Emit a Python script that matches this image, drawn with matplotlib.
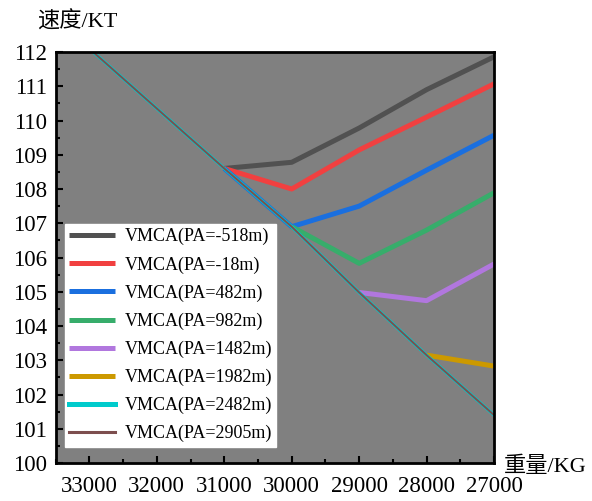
import matplotlib
matplotlib.use('Agg')
import matplotlib.pyplot as plt
from matplotlib.ticker import MultipleLocator

# weight (kg) and VMCA (kt)
w_m518 = [31000, 30000, 29000, 28000, 27000]
v_m518 = [108.6, 108.78, 109.78, 110.9, 111.86]

w_m18 = [31000, 30000, 29000, 28000, 27000]
v_m18 = [108.6, 108.0, 109.14, 110.1, 111.07]

w_482 = [31000, 30000, 29000, 28000, 27000]
v_482 = [108.6, 106.9, 107.5, 108.55, 109.57]

w_982 = [30000, 29000, 28000, 27000]
v_982 = [106.9, 105.83, 106.8, 107.89]

w_1482 = [29000, 28000, 27000]
v_1482 = [104.98, 104.74, 105.81]

w_1982 = [28000, 27000]
v_1982 = [103.15, 102.83]

w_2482 = [33000, 32000, 31000, 30000, 29000, 28000, 27000]
v_2482 = [112.1, 110.35, 108.6, 106.9, 104.98, 103.15, 101.4]

w_2905 = [33000, 32000, 31000, 30000, 29000, 28000, 27000]
v_2905 = [112.1, 110.35, 108.6, 106.9, 104.98, 103.15, 101.4]

labels = ['VMCA(PA=-518m)', 'VMCA(PA=-18m)', 'VMCA(PA=482m)', 'VMCA(PA=982m)',
          'VMCA(PA=1482m)', 'VMCA(PA=1982m)', 'VMCA(PA=2482m)', 'VMCA(PA=2905m)']
colors = ['#515151', '#F14040', '#1A6FDF', '#37AD6B',
          '#B177DE', '#CC9900', '#00CBCC', '#7D4E4E']

plt.rcParams['font.family'] = ['Liberation Serif', 'Noto Sans CJK SC']

fig = plt.figure(figsize=(5.92, 5.01), dpi=100)
ax = fig.add_axes([0.094, 0.0758, 0.7405, 0.8204])
ax.set_facecolor('#808080')

series = [(w_m518, v_m518), (w_m18, v_m18), (w_482, v_482), (w_982, v_982),
          (w_1482, v_1482), (w_1982, v_1982)]
for (w, v), lab, c in zip(series, labels[:6], colors[:6]):
    ax.plot(w, v, color=c, lw=3.6, label=lab, solid_capstyle='butt')
ax.plot(w_2482, v_2482, color=colors[6], lw=2.4, label=labels[6])
ax.plot(w_2905, v_2905, color=colors[7], lw=1.4, label=labels[7])

ax.set_xlim(33500, 27000)
ax.set_ylim(100, 112)
ax.xaxis.set_major_locator(MultipleLocator(1000))
ax.xaxis.set_minor_locator(MultipleLocator(500))
ax.yaxis.set_major_locator(MultipleLocator(1))
ax.yaxis.set_minor_locator(MultipleLocator(0.5))
ax.tick_params(which='both', direction='in', width=1.5, top=False, right=False)
ax.tick_params(which='major', length=5, labelsize=16.5)
ax.tick_params(axis='x', which='major', pad=9)
ax.tick_params(axis='y', which='major', pad=6)
ax.tick_params(which='minor', length=3)
for s in ax.spines.values():
    s.set_linewidth(2)

leg = ax.legend(loc='lower left', bbox_to_anchor=(0.021, 0.039), borderaxespad=0,
                fontsize=13, frameon=True, fancybox=False, framealpha=1,
                edgecolor='white', handlelength=2.5, handletextpad=0.55,
                borderpad=0.25, labelspacing=0.6)
for ln in leg.get_lines():
    ln.set_linewidth(3.6)
leg.get_lines()[7].set_linewidth(2.2)

fig.text(0.063, 0.957, '速度/KT', fontsize=16, ha='left', va='center')
fig.text(0.851, 0.069, '重量/KG', fontsize=16, ha='left', va='center')

plt.savefig('out.png', dpi=100)
